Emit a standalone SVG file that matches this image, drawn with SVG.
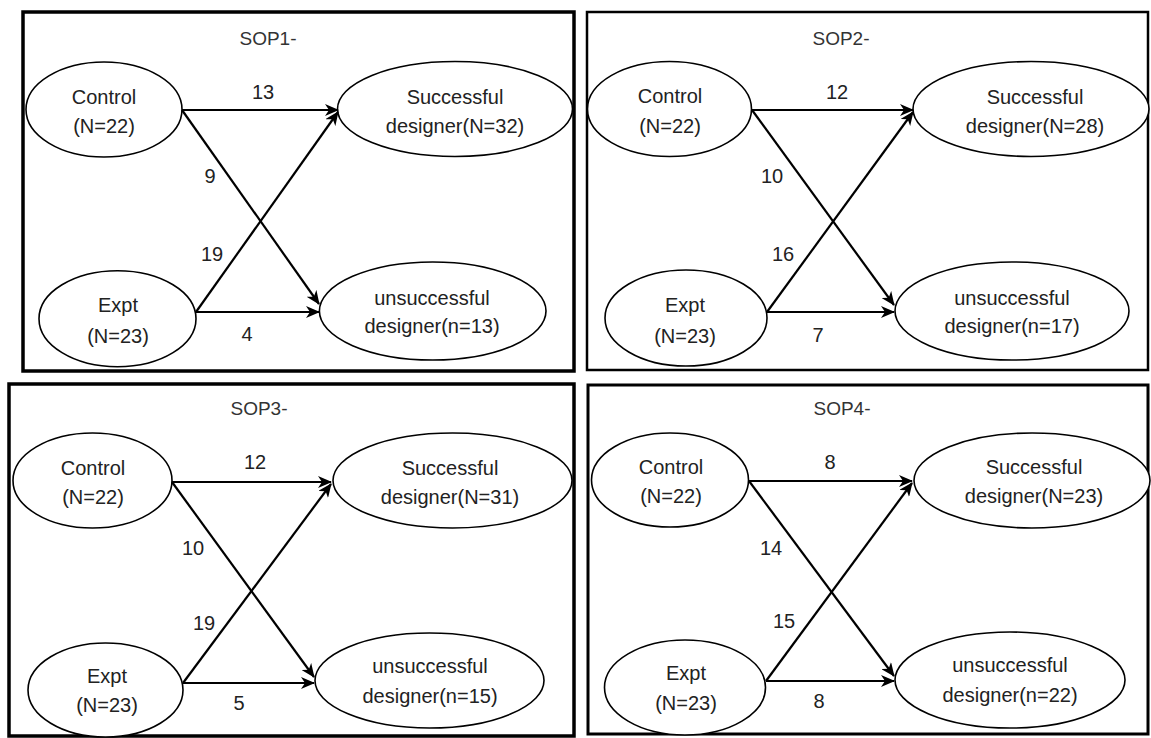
<svg xmlns="http://www.w3.org/2000/svg" width="1151" height="738" viewBox="0 0 1151 738">
<style>
.panel{fill:none;stroke:#000}
.node ellipse{fill:#fff;stroke:#000;stroke-width:1.6}
text{font-family:"Liberation Sans",Arial,sans-serif;font-size:20px;fill:#222;text-anchor:middle}
.title{font-size:19px;fill:#333}
.edge{stroke:#000;stroke-width:2.2;fill:none;marker-end:url(#arr)}
</style>
<defs>
<marker id="arr" markerUnits="userSpaceOnUse" markerWidth="14" markerHeight="12" viewBox="0 0 14 12" refX="13" refY="6" orient="auto">
<path d="M0,0 L14,6 L0,12 L4,6 Z" fill="#000"/>
</marker>
</defs>
<rect width="1151" height="738" fill="#fff"/>
<g id="panels">
<rect class="panel" x="23" y="12" width="551" height="359" stroke-width="3.5"/>
<rect class="panel" x="587" y="12" width="561" height="358" stroke-width="2.5"/>
<rect class="panel" x="9" y="384" width="565" height="352" stroke-width="3.5"/>
<rect class="panel" x="588" y="385" width="560" height="349" stroke-width="3"/>
</g>
<g id="titles">
<text class="title" x="268" y="45">SOP1-</text>
<text class="title" x="841" y="45">SOP2-</text>
<text class="title" x="259" y="415">SOP3-</text>
<text class="title" x="842" y="415">SOP4-</text>
</g>
<!-- Panel 1 nodes -->
<g id="p1-control" class="node"><ellipse cx="104" cy="109.5" rx="78" ry="47.5"/><text x="104" y="104">Control</text><text x="104" y="133">(N=22)</text></g>
<g id="p1-successful" class="node"><ellipse cx="455" cy="109" rx="117.5" ry="47.5"/><text x="455" y="104">Successful</text><text x="455" y="133">designer(N=32)</text></g>
<g id="p1-expt" class="node"><ellipse cx="117.5" cy="318.7" rx="78.5" ry="48"/><text x="118" y="312">Expt</text><text x="118" y="343">(N=23)</text></g>
<g id="p1-unsuccessful" class="node"><ellipse cx="432.7" cy="311" rx="113.3" ry="49"/><text x="432" y="305">unsuccessful</text><text x="432" y="333">designer(n=13)</text></g>
<!-- Panel 2 nodes -->
<g id="p2-control" class="node"><ellipse cx="669.5" cy="109" rx="82" ry="47.5"/><text x="670" y="103">Control</text><text x="670" y="133">(N=22)</text></g>
<g id="p2-successful" class="node"><ellipse cx="1031" cy="109" rx="118" ry="47.5"/><text x="1035" y="104">Successful</text><text x="1035" y="133">designer(N=28)</text></g>
<g id="p2-expt" class="node"><ellipse cx="686" cy="318" rx="81" ry="48"/><text x="685" y="312">Expt</text><text x="685" y="343">(N=23)</text></g>
<g id="p2-unsuccessful" class="node"><ellipse cx="1012" cy="311" rx="117" ry="49"/><text x="1012" y="305">unsuccessful</text><text x="1012" y="333">designer(n=17)</text></g>
<!-- Panel 3 nodes -->
<g id="p3-control" class="node"><ellipse cx="92.5" cy="480.5" rx="79.5" ry="47.5"/><text x="93" y="475">Control</text><text x="93" y="504">(N=22)</text></g>
<g id="p3-successful" class="node"><ellipse cx="452.5" cy="480.5" rx="119.5" ry="47.5"/><text x="450" y="475">Successful</text><text x="450" y="504">designer(N=31)</text></g>
<g id="p3-expt" class="node"><ellipse cx="105.5" cy="690" rx="77.5" ry="47"/><text x="107" y="683">Expt</text><text x="107" y="712">(N=23)</text></g>
<g id="p3-unsuccessful" class="node"><ellipse cx="429.5" cy="680.5" rx="114.5" ry="47.5"/><text x="430" y="673">unsuccessful</text><text x="430" y="703">designer(n=15)</text></g>
<!-- Panel 4 nodes -->
<g id="p4-control" class="node"><ellipse cx="670" cy="480" rx="78.5" ry="47"/><text x="671" y="474">Control</text><text x="671" y="503">(N=22)</text></g>
<g id="p4-successful" class="node"><ellipse cx="1032" cy="480.5" rx="118" ry="47.5"/><text x="1034" y="474">Successful</text><text x="1034" y="503">designer(N=23)</text></g>
<g id="p4-expt" class="node"><ellipse cx="685" cy="687.5" rx="80.5" ry="47.5"/><text x="686" y="680">Expt</text><text x="686" y="710">(N=23)</text></g>
<g id="p4-unsuccessful" class="node"><ellipse cx="1010" cy="680" rx="115" ry="48"/><text x="1010" y="672">unsuccessful</text><text x="1010" y="702">designer(n=22)</text></g>
<g id="connectors">
<line class="edge" x1="182" y1="110" x2="338" y2="110"/>
<line class="edge" x1="182" y1="110" x2="319" y2="304"/>
<line class="edge" x1="196" y1="312" x2="338" y2="112"/>
<line class="edge" x1="196" y1="312" x2="319" y2="312"/>
<line class="edge" x1="752" y1="110" x2="913" y2="110"/>
<line class="edge" x1="752" y1="110" x2="894" y2="305"/>
<line class="edge" x1="767" y1="312" x2="913" y2="112"/>
<line class="edge" x1="767" y1="312" x2="894" y2="312"/>
<line class="edge" x1="172" y1="482" x2="331" y2="482"/>
<line class="edge" x1="172" y1="482" x2="314" y2="677"/>
<line class="edge" x1="183" y1="683" x2="331" y2="484"/>
<line class="edge" x1="183" y1="683" x2="314" y2="683"/>
<line class="edge" x1="749" y1="481" x2="912" y2="481"/>
<line class="edge" x1="749" y1="481" x2="894" y2="676"/>
<line class="edge" x1="766" y1="681" x2="912" y2="483"/>
<line class="edge" x1="766" y1="681" x2="894" y2="681"/>
</g>
<g id="edge-labels">
<text x="263" y="99">13</text><text x="210" y="183">9</text><text x="212" y="261">19</text><text x="247" y="341">4</text>
<text x="837" y="99">12</text><text x="772" y="183">10</text><text x="783" y="261">16</text><text x="818" y="342">7</text>
<text x="255" y="469">12</text><text x="193" y="555">10</text><text x="204" y="630">19</text><text x="239" y="710">5</text>
<text x="830" y="469">8</text><text x="771" y="555">14</text><text x="784" y="628">15</text><text x="819" y="708">8</text>
</g>
</svg>
